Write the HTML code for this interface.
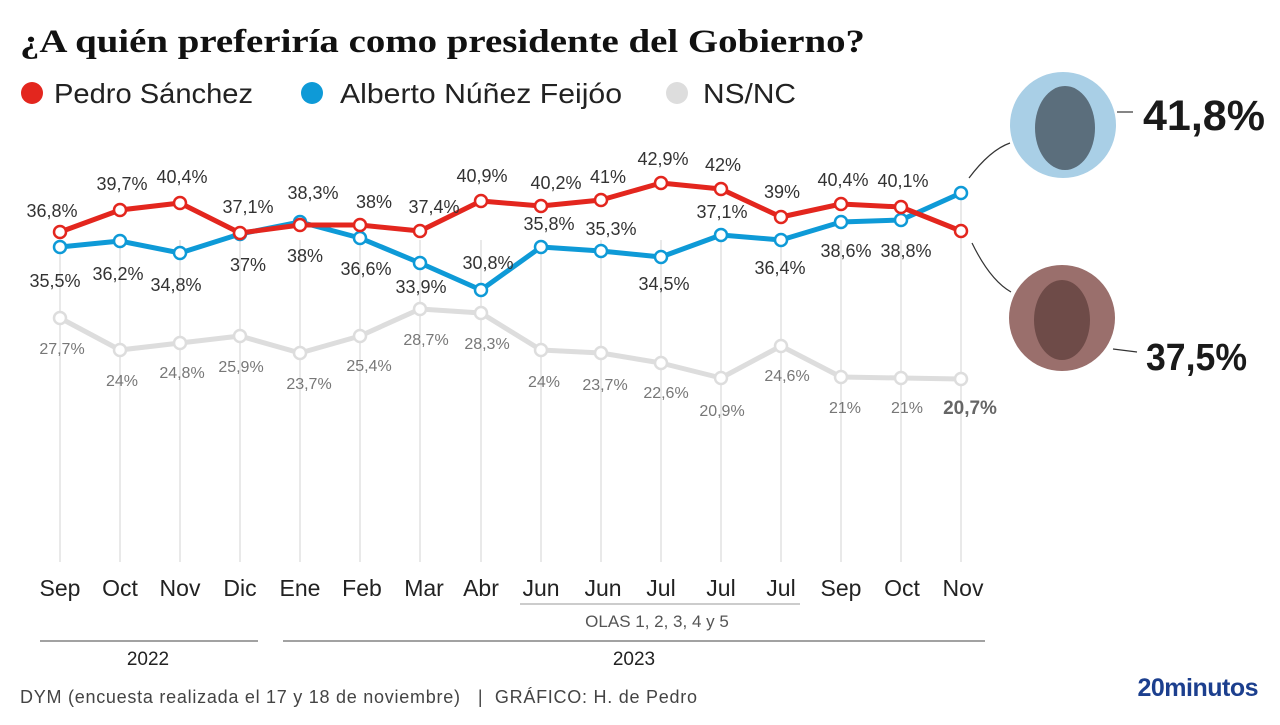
<!DOCTYPE html>
<html><head><meta charset="utf-8"><style>
body{margin:0;background:#fff;width:1280px;height:720px;overflow:hidden}
svg{font-family:"Liberation Sans",sans-serif}
</style></head><body>
<svg width="1280" height="720" viewBox="0 0 1280 720">
<text x="20" y="52" font-family="Liberation Serif,serif" font-weight="bold" font-size="33" fill="#111" textLength="845" lengthAdjust="spacingAndGlyphs">¿A quién preferiría como presidente del Gobierno?</text>
<circle cx="32" cy="93" r="11" fill="#e3261e"/><text x="54" y="103" font-size="28" fill="#222" textLength="199" lengthAdjust="spacingAndGlyphs">Pedro Sánchez</text>
<circle cx="312" cy="93" r="11" fill="#0e9ad7"/><text x="340" y="103" font-size="28" fill="#222" textLength="282" lengthAdjust="spacingAndGlyphs">Alberto Núñez Feijóo</text>
<circle cx="677" cy="93" r="11" fill="#ddd"/><text x="703" y="103" font-size="28" fill="#222" textLength="93" lengthAdjust="spacingAndGlyphs">NS/NC</text>
<g stroke="#e2e2e2" stroke-width="1.5">
<line x1="60" y1="240" x2="60" y2="562"/><line x1="120" y1="240" x2="120" y2="562"/><line x1="180" y1="240" x2="180" y2="562"/><line x1="240" y1="240" x2="240" y2="562"/><line x1="300" y1="240" x2="300" y2="562"/><line x1="360" y1="240" x2="360" y2="562"/><line x1="420" y1="240" x2="420" y2="562"/><line x1="481" y1="240" x2="481" y2="562"/><line x1="541" y1="240" x2="541" y2="562"/><line x1="601" y1="240" x2="601" y2="562"/><line x1="661" y1="240" x2="661" y2="562"/><line x1="721" y1="240" x2="721" y2="562"/><line x1="781" y1="240" x2="781" y2="562"/><line x1="841" y1="240" x2="841" y2="562"/><line x1="901" y1="240" x2="901" y2="562"/><line x1="961" y1="200" x2="961" y2="562"/>
</g>
<g fill="none" stroke-width="5" stroke-linejoin="round">
<polyline stroke="#ddd" points="60,318 120,350 180,343 240,336 300,353 360,336 420,309 481,313 541,350 601,353 661,363 721,378 781,346 841,377 901,378 961,379"/>
<polyline stroke="#0e9ad7" points="60,247 120,241 180,253 240,234 300,222 360,238 420,263 481,290 541,247 601,251 661,257 721,235 781,240 841,222 901,220 961,193"/>
<polyline stroke="#e3261e" points="60,232 120,210 180,203 240,233 300,225 360,225 420,231 481,201 541,206 601,200 661,183 721,189 781,217 841,204 901,207 961,231"/>
</g>
<g fill="#fff" stroke-width="2.5">
<g stroke="#ddd"><circle cx="60" cy="318" r="6"/><circle cx="120" cy="350" r="6"/><circle cx="180" cy="343" r="6"/><circle cx="240" cy="336" r="6"/><circle cx="300" cy="353" r="6"/><circle cx="360" cy="336" r="6"/><circle cx="420" cy="309" r="6"/><circle cx="481" cy="313" r="6"/><circle cx="541" cy="350" r="6"/><circle cx="601" cy="353" r="6"/><circle cx="661" cy="363" r="6"/><circle cx="721" cy="378" r="6"/><circle cx="781" cy="346" r="6"/><circle cx="841" cy="377" r="6"/><circle cx="901" cy="378" r="6"/><circle cx="961" cy="379" r="6"/></g>
<g stroke="#0e9ad7"><circle cx="60" cy="247" r="6"/><circle cx="120" cy="241" r="6"/><circle cx="180" cy="253" r="6"/><circle cx="240" cy="234" r="6"/><circle cx="300" cy="222" r="6"/><circle cx="360" cy="238" r="6"/><circle cx="420" cy="263" r="6"/><circle cx="481" cy="290" r="6"/><circle cx="541" cy="247" r="6"/><circle cx="601" cy="251" r="6"/><circle cx="661" cy="257" r="6"/><circle cx="721" cy="235" r="6"/><circle cx="781" cy="240" r="6"/><circle cx="841" cy="222" r="6"/><circle cx="901" cy="220" r="6"/><circle cx="961" cy="193" r="6"/></g>
<g stroke="#e3261e"><circle cx="60" cy="232" r="6"/><circle cx="120" cy="210" r="6"/><circle cx="180" cy="203" r="6"/><circle cx="240" cy="233" r="6"/><circle cx="300" cy="225" r="6"/><circle cx="360" cy="225" r="6"/><circle cx="420" cy="231" r="6"/><circle cx="481" cy="201" r="6"/><circle cx="541" cy="206" r="6"/><circle cx="601" cy="200" r="6"/><circle cx="661" cy="183" r="6"/><circle cx="721" cy="189" r="6"/><circle cx="781" cy="217" r="6"/><circle cx="841" cy="204" r="6"/><circle cx="901" cy="207" r="6"/><circle cx="961" cy="231" r="6"/></g>
</g>
<g font-size="18" fill="#333" text-anchor="middle">
<text x="52" y="217">36,8%</text><text x="122" y="190">39,7%</text><text x="182" y="183">40,4%</text><text x="248" y="213">37,1%</text><text x="313" y="199">38,3%</text><text x="374" y="208">38%</text><text x="434" y="213">37,4%</text><text x="482" y="182">40,9%</text><text x="556" y="189">40,2%</text><text x="608" y="183">41%</text><text x="663" y="165">42,9%</text><text x="723" y="171">42%</text><text x="782" y="198">39%</text><text x="843" y="186">40,4%</text><text x="903" y="187">40,1%</text>
<text x="55" y="287">35,5%</text><text x="118" y="280">36,2%</text><text x="176" y="291">34,8%</text><text x="248" y="271">37%</text><text x="305" y="262">38%</text><text x="366" y="275">36,6%</text><text x="421" y="293">33,9%</text><text x="488" y="269">30,8%</text><text x="549" y="230">35,8%</text><text x="611" y="235">35,3%</text><text x="664" y="290">34,5%</text><text x="722" y="218">37,1%</text><text x="780" y="274">36,4%</text><text x="846" y="257">38,6%</text><text x="906" y="257">38,8%</text>
</g>
<g font-size="16" fill="#777" text-anchor="middle">
<text x="62" y="354">27,7%</text><text x="122" y="386">24%</text><text x="182" y="378">24,8%</text><text x="241" y="372">25,9%</text><text x="309" y="389">23,7%</text><text x="369" y="371">25,4%</text><text x="426" y="345">28,7%</text><text x="487" y="349">28,3%</text><text x="544" y="387">24%</text><text x="605" y="390">23,7%</text><text x="666" y="398">22,6%</text><text x="722" y="416">20,9%</text><text x="787" y="381">24,6%</text><text x="845" y="413">21%</text><text x="907" y="413">21%</text>
<text x="970" y="414" font-size="19" font-weight="bold" fill="#666">20,7%</text>
</g>
<g font-size="23" fill="#222" text-anchor="middle">
<text x="60" y="596">Sep</text><text x="120" y="596">Oct</text><text x="180" y="596">Nov</text><text x="240" y="596">Dic</text><text x="300" y="596">Ene</text><text x="362" y="596">Feb</text><text x="424" y="596">Mar</text><text x="481" y="596">Abr</text><text x="541" y="596">Jun</text><text x="603" y="596">Jun</text><text x="661" y="596">Jul</text><text x="721" y="596">Jul</text><text x="781" y="596">Jul</text><text x="841" y="596">Sep</text><text x="902" y="596">Oct</text><text x="963" y="596">Nov</text>
</g>
<line x1="520" y1="604" x2="800" y2="604" stroke="#bbb" stroke-width="1.5"/>
<text x="657" y="627" font-size="17" fill="#555" text-anchor="middle">OLAS 1, 2, 3, 4 y 5</text>
<line x1="40" y1="641" x2="258" y2="641" stroke="#444" stroke-width="1"/>
<line x1="283" y1="641" x2="985" y2="641" stroke="#444" stroke-width="1"/>
<text x="148" y="665" font-size="19" fill="#222" text-anchor="middle">2022</text>
<text x="634" y="665" font-size="19" fill="#222" text-anchor="middle">2023</text>
<text x="20" y="703" font-size="18" fill="#444" textLength="677" lengthAdjust="spacing" xml:space="preserve">DYM (encuesta realizada el 17 y 18 de noviembre)   |  GRÁFICO: H. de Pedro</text>
<text x="1258" y="696" font-size="25" font-weight="bold" fill="#1c3f8e" text-anchor="end" letter-spacing="-0.5">20minutos</text>
<path d="M969,178 Q990,150 1010,143" fill="none" stroke="#333" stroke-width="1.2"/>
<path d="M972,243 Q990,280 1011,292" fill="none" stroke="#333" stroke-width="1.2"/>
<circle cx="1063" cy="125" r="53" fill="#a9cfe6"/>
<ellipse cx="1065" cy="128" rx="30" ry="42" fill="#5b6e7c"/>
<circle cx="1062" cy="318" r="53" fill="#9a6f6c"/>
<ellipse cx="1062" cy="320" rx="28" ry="40" fill="#6e4b48"/>
<line x1="1117" y1="112" x2="1133" y2="112" stroke="#333" stroke-width="1.2"/>
<line x1="1113" y1="349" x2="1137" y2="352" stroke="#333" stroke-width="1.2"/>
<text x="1143" y="130" font-size="43" font-weight="bold" fill="#1a1a1a" textLength="122" lengthAdjust="spacingAndGlyphs">41,8%</text>
<text x="1146" y="370" font-size="38" font-weight="bold" fill="#1a1a1a" textLength="101" lengthAdjust="spacingAndGlyphs">37,5%</text>
</svg>
</body></html>
